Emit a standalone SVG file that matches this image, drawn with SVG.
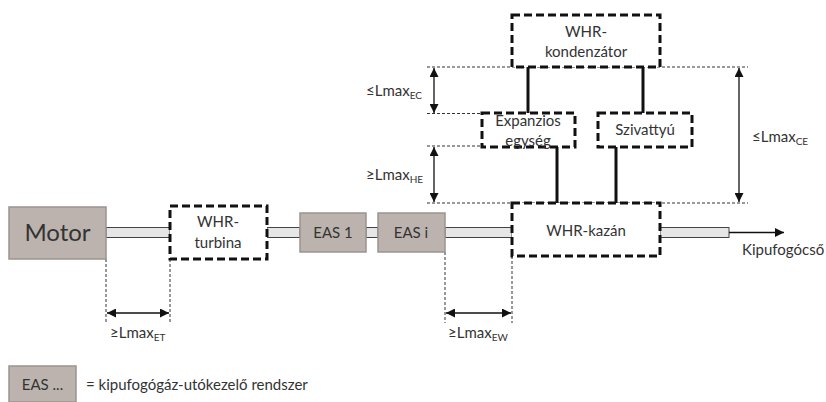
<svg xmlns="http://www.w3.org/2000/svg" width="826" height="402" viewBox="0 0 826 402">
<defs>
<marker id="ah" viewBox="0 0 10 10" refX="10" refY="5" markerWidth="9" markerHeight="9" markerUnits="userSpaceOnUse" orient="auto-start-reverse">
<path d="M0,0 L10,5 L0,10 z" fill="#111"/>
</marker>
<style>
text{font-family:Lato,"Open Sans","DejaVu Sans",sans-serif;fill:#333;font-size:15px}
.mid{text-anchor:middle}
.eas{fill:#bcb3af;stroke:#9a9491;stroke-width:1.5}
.whr{fill:#fff;stroke:#111;stroke-width:3;stroke-dasharray:8,4}
.pipe{fill:#e6e6e6;stroke:#444;stroke-width:1}
.dim{fill:none;stroke:#333;stroke-width:1;stroke-dasharray:3,2}
.arr{fill:none;stroke:#111;stroke-width:1.3;marker-start:url(#ah);marker-end:url(#ah)}
.link{fill:none;stroke:#111;stroke-width:3}
.sub{font-size:10px}
</style>
</defs>
<rect width="826" height="402" fill="#fff"/>
<g id="connectors">
<rect class="pipe" x="106" y="227.5" width="64" height="10"/>
<rect class="pipe" x="267" y="227.5" width="33" height="10"/>
<rect class="pipe" x="366" y="227.5" width="12" height="10"/>
<rect class="pipe" x="445" y="227.5" width="67" height="10"/>
<rect class="pipe" x="660" y="227.5" width="69" height="10"/>
<line x1="729" y1="232.5" x2="784" y2="232.5" stroke="#111" stroke-width="1.3" marker-end="url(#ah)"/>
<line class="link" x1="528" y1="67" x2="528" y2="113"/>
<line class="link" x1="643" y1="67" x2="643" y2="113"/>
<line class="link" x1="557" y1="147" x2="557" y2="203"/>
<line class="link" x1="616" y1="147" x2="616" y2="203"/>
</g>
<g id="dimensions">
<line class="dim" x1="427" y1="67" x2="748" y2="67"/>
<line class="dim" x1="427" y1="113.5" x2="482" y2="113.5"/>
<line class="dim" x1="427" y1="146" x2="482" y2="146"/>
<line class="dim" x1="427" y1="203" x2="748" y2="203"/>
<line class="arr" x1="434" y1="68" x2="434" y2="113"/>
<line class="arr" x1="434" y1="147" x2="434" y2="202"/>
<line class="arr" x1="739" y1="68" x2="739" y2="202"/>
<line class="dim" x1="106" y1="259" x2="106" y2="323"/>
<line class="dim" x1="170" y1="259" x2="170" y2="323"/>
<line class="arr" x1="107" y1="313" x2="169" y2="313"/>
<line class="dim" x1="445" y1="252" x2="445" y2="323"/>
<line class="dim" x1="512" y1="256" x2="512" y2="323"/>
<line class="arr" x1="446" y1="313" x2="511" y2="313"/>
<text x="366" y="96">≤Lmax<tspan class="sub" dy="3">EC</tspan></text>
<text x="366" y="180">≥Lmax<tspan class="sub" dy="3">HE</tspan></text>
<text x="752" y="142">≤Lmax<tspan class="sub" dy="3">CE</tspan></text>
<text x="110" y="338">≥Lmax<tspan class="sub" dy="3">ET</tspan></text>
<text x="448" y="338">≥Lmax<tspan class="sub" dy="3">EW</tspan></text>
</g>
<g id="motor">
<rect class="eas" x="9" y="207" width="97" height="52"/>
<text class="mid" x="57.5" y="241" style="font-size:24px">Motor</text>
</g>
<g id="whr-turbina">
<rect class="whr" x="170" y="206" width="97" height="53"/>
<text class="mid" x="218" y="227">WHR-</text>
<text class="mid" x="218" y="248">turbina</text>
</g>
<g id="eas1">
<rect class="eas" x="300" y="213" width="66" height="39"/>
<text class="mid" x="333" y="238">EAS 1</text>
</g>
<g id="easi">
<rect class="eas" x="378" y="213" width="67" height="39"/>
<text class="mid" x="411" y="238">EAS i</text>
</g>
<g id="whr-kazan">
<rect class="whr" x="512" y="203" width="148" height="53"/>
<text class="mid" x="586" y="236">WHR-kazán</text>
</g>
<g id="whr-kondenzator">
<rect class="whr" x="512" y="15" width="148" height="52"/>
<text class="mid" x="586" y="37">WHR-</text>
<text class="mid" x="586" y="57">kondenzátor</text>
</g>
<g id="expanzios">
<rect class="whr" x="482" y="113" width="93" height="34"/>
<text class="mid" x="528" y="126">Expanzios</text>
<text class="mid" x="528" y="146">egység</text>
</g>
<g id="szivattyu">
<rect class="whr" x="598" y="113" width="94" height="34"/>
<text class="mid" x="645" y="135">Szivattyú</text>
</g>
<g id="kipufogocso">
<text x="742" y="255">Kipufogócső</text>
</g>
<g id="legend">
<rect class="eas" x="9" y="366" width="67" height="36"/>
<text class="mid" x="42.5" y="390">EAS ...</text>
<text x="86" y="390">= kipufogógáz-utókezelő rendszer</text>
</g>
</svg>
